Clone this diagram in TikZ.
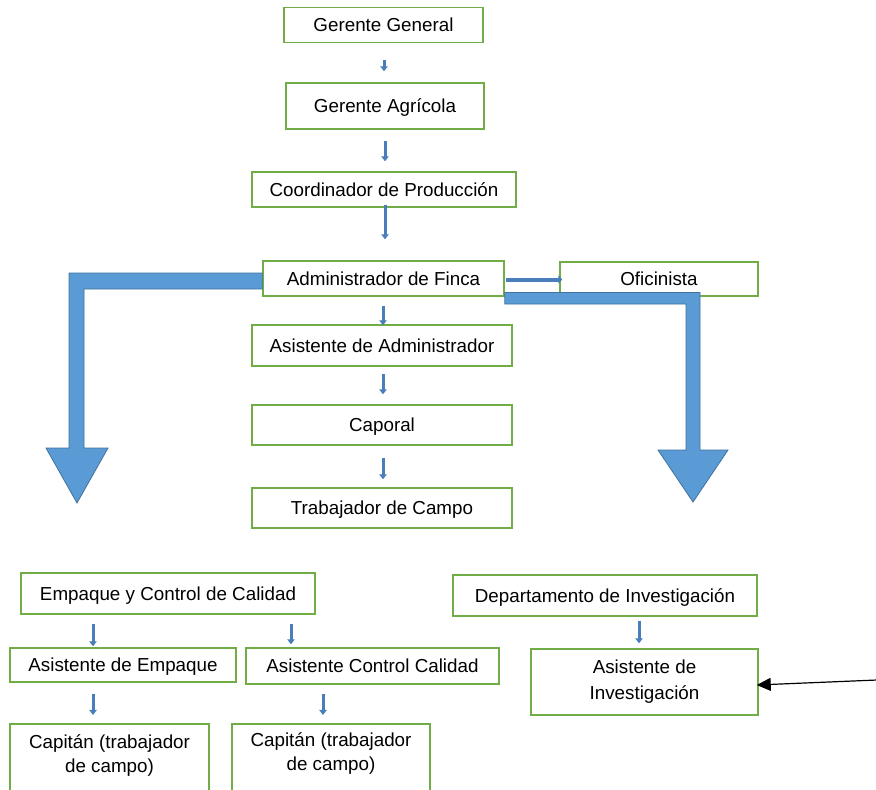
\documentclass[tikz,border=0pt]{standalone}
\usepackage{fontspec}
\setmainfont{Liberation Sans}
\usetikzlibrary{arrows.meta,calc}
\definecolor{boxgreen}{RGB}{112,173,71}
\definecolor{bigblue}{RGB}{91,155,213}
\definecolor{bigbluedark}{RGB}{65,113,156}
\definecolor{smallblue}{RGB}{74,126,187}
\begin{document}
\begin{tikzpicture}[x=1pt,y=-1pt,
  box/.style={draw=boxgreen,line width=1.5pt,rectangle,inner sep=0pt,
    font=\fontsize{18.8}{24}\selectfont,text height=13.5pt,text depth=0pt},
  mbox/.style={draw=boxgreen,line width=1.5pt,rectangle,inner sep=0pt,
    align=center,font=\fontsize{18.8}{26}\selectfont},
  openbox/.style={draw=boxgreen,line width=1.5pt},
  txt/.style={inner sep=0pt,align=center,font=\fontsize{18.8}{24}\selectfont},
  sarrow/.style={draw=smallblue,line width=3pt,-{Triangle[width=7.5pt,length=5pt]}},
  harrow/.style={draw=smallblue,line width=4pt,-{Triangle[width=8pt,length=4pt]}},
  bigarrow/.style={fill=bigblue,draw=bigbluedark,line width=0.8pt},
  blackarrow/.style={draw=black,line width=1.2pt,-{Triangle[width=13pt,length=14pt]}}
]
\fill[white] (0,0) rectangle (876,790);
\useasboundingbox (0,0) rectangle (876,790);

% top chain
\node[box,minimum width=199pt,minimum height=35pt] (gg) at (383.5,25) {Gerente General};
\node[box,minimum width=198pt,minimum height=46pt] (ga) at (385,106) {Gerente Agrícola};
\node[box,minimum width=264pt,minimum height=35pt] (cp) at (384,189.5) {Coordinador de Producción};
\node[box,minimum width=241pt,minimum height=35pt] (af) at (383.5,278.5) {Administrador de Finca};
\node[box,minimum width=198pt,minimum height=34pt] (of) at (659,279) {Oficinista};
\node[box,minimum width=260pt,minimum height=41pt] (aa) at (382,345.5) {Asistente de Administrador};
\node[box,minimum width=260pt,minimum height=40pt] (cap) at (382,425) {Caporal};
\node[box,minimum width=260pt,minimum height=40pt] (tc) at (382,508) {Trabajador de Campo};

% bottom left group
\node[box,minimum width=294pt,minimum height=41pt] (ecc) at (168,593.5) {Empaque y Control de Calidad};
\node[box,minimum width=226pt,minimum height=34pt] (ae) at (123,665) {Asistente de Empaque};
\node[box,minimum width=253pt,minimum height=36pt] (acc) at (372.5,666) {Asistente Control Calidad};
\coordinate (c1nw) at (10,724);
\coordinate (c1se) at (209,805);
\coordinate (c2nw) at (232,724);
\coordinate (c2se) at (430,805);
\draw[openbox] (c1nw) rectangle (c1se);
\draw[openbox] (c2nw) rectangle (c2se);
\node[txt] (cap1) at (109.5,756) {Capitán (trabajador\\de campo)};
\node[txt] (cap2) at (331,754) {Capitán (trabajador\\de campo)};

% bottom right group
\node[box,minimum width=304pt,minimum height=41pt] (di) at (605,595.5) {Departamento de Investigación};
\node[mbox,minimum width=227pt,minimum height=66pt] (ai) at (644.5,682) {Asistente de\\Investigación};

% small arrows
\draw[sarrow] ($(gg.south)+(0.5,16.5)$) -- ($(ga.north)+(-1,-11)$);
\draw[sarrow] ($(ga.south)+(0,11)$) -- ($(cp.north)+(1,-10)$);
\draw[sarrow] ($(cp.south)+(1,-3)$) -- ($(af.north)+(1.5,-21)$);
\draw[sarrow] ($(af.south)+(-0.5,9)$) -- ($(aa.north)+(1,1)$);
\draw[sarrow] ($(aa.south)+(1,7)$) -- ($(cap.north)+(1,-10)$);
\draw[sarrow] ($(cap.south)+(1,12)$) -- ($(tc.north)+(1,-8)$);
\draw[sarrow] ($(ecc.south)+(-75,9)$) -- ($(ae.north)+(-30,-1)$);
\draw[sarrow] ($(ecc.south)+(123,9)$) -- ($(acc.north)+(-81.5,-3)$);
\draw[sarrow] ($(ae.south)+(-30,11)$) -- ($(cap1.north)+(-16.5,-20)$);
\draw[sarrow] ($(acc.south)+(-49.5,9)$) -- ($(cap2.north)+(-8,-18)$);
\draw[sarrow] ($(di.south)+(34,4)$) -- ($(ai.north)+(-5.5,-5)$);

% horizontal arrow to Oficinista
\draw[harrow] ($(af.east)+(1,1)$) -- ($(of.west)+(3,0.5)$);

% big block arrows
\filldraw[bigarrow] ($(af.west)+(0,-5.5)$) -- (69,273) -- (69,448) -- (46,448)
  -- (77,503) -- (108,448) -- (84,448) -- (84,289) -- ($(af.west)+(0,10.5)$) -- cycle;
\filldraw[bigarrow] ($(af.east)+(0,14)$) -- (700,292.5) -- (700,450) -- (728,450)
  -- (693,502) -- (658,450) -- (686,450) -- (686,304) -- ($(af.east)+(0,25.5)$) -- cycle;

% black pointer arrow
\coordinate (ext) at (877,680);
\draw[blackarrow] (ext) -- ($(ai.east)+(-2,3)$);
\end{tikzpicture}
\end{document}
